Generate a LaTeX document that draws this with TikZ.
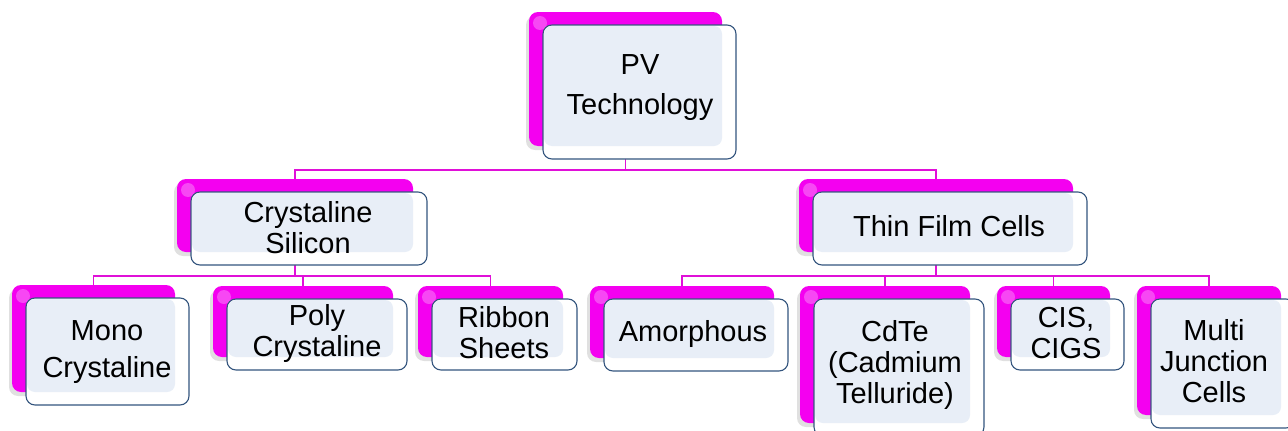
\documentclass[tikz,border=0pt]{standalone}
\usepackage{fontspec}
\setmainfont{Liberation Sans}
\usetikzlibrary{calc}
\pgfdeclarelayer{background}
\pgfsetlayers{background,main}

\definecolor{tilemag}{HTML}{F400F0}
\definecolor{wiremag}{HTML}{E010D8}
\definecolor{tilefill}{HTML}{E8EEF7}
\definecolor{tileedge}{HTML}{34557E}

\tikzset{
  backbox/.style={fill=tilemag, rounded corners=9pt, inner sep=0pt, outer sep=0pt},
  frontbox/.style={draw=tileedge, line width=1.1pt, fill=white, rounded corners=9pt},
  innerfill/.style={fill=tilefill, rounded corners=8pt},
  gloss/.style={fill=white, opacity=.28},
  softshadow/.style={fill=black, opacity=.12, rounded corners=9pt},
  wire/.style={draw=wiremag, line width=1.3pt},
  lbl/.style={font=\fontsize{29}{31}\selectfont, align=center, text=black, inner sep=0pt},
}

% tile: name, x1, y1, x2, y2 of the magenta back plate; the framed card sits offset by (14,13)
\newcommand\tile[5]{%
  \path[softshadow] ({#2-3},{#3+4}) rectangle ({#4-3},{#5+4});
  \node[backbox, minimum width={#4-#2}, minimum height={#5-#3}] (#1) at ({(#2+#4)/2},{(#3+#5)/2}) {};
  \path[gloss] ({#2+11},{#3+11}) circle (7);
  \path[frontbox] ({#2+14},{#3+13}) rectangle ({#4+14},{#5+13});
  \path[innerfill] ({#2+15},{#3+14}) rectangle (#4,#5);
}

\begin{document}
\begin{tikzpicture}[x=1pt, y=-1pt]
\useasboundingbox (0,0) rectangle (1288,431);

% level 0
\tile{pv}{529}{12}{722}{146}
% level 1
\tile{cs}{177}{179}{413}{252}
\tile{tf}{799}{179}{1073}{252}
% level 2
\tile{mono}{12}{285}{175}{392}
\tile{poly}{213}{286}{393}{357}
\tile{ribbon}{418}{286}{563}{357}
\tile{amor}{590}{286}{774}{358}
\tile{cdte}{800}{286}{970}{423}
\tile{cis}{997}{286}{1110}{357}
\tile{multi}{1137}{286}{1281}{415}

% labels
\node[lbl] (pv-t) at (640,88) {PV\\[9pt]Technology};
\node[lbl] (cs-t) at (308,228) {Crystaline\\Silicon};
\node[lbl] (tf-t) at (949,226) {Thin Film Cells};
\node[lbl] (mono-t) at (107,352) {Mono\\[6pt]Crystaline};
\node[lbl] (poly-t) at (317,333) {Poly\\Crystaline};
\node[lbl] (ribbon-t) at (504,333) {Ribbon\\Sheets};
\node[lbl] (amor-t) at (693,334) {Amorphous};
\node[lbl] (cdte-t) at (895,365) {CdTe\\(Cadmium\\Telluride)};
\node[lbl] (cis-t) at (1066,333) {CIS,\\CIGS};
\node[lbl] (multi-t) at (1214,361) {Multi\\Junction\\Cells};

% bus lines
\coordinate (bus0) at (0,170);
\coordinate (bus1) at (0,276);
\coordinate (bus2) at (0,276);

\begin{pgfonlayer}{background}
  \draw[wire] (pv.south) -- (pv.south |- bus0);
  \draw[wire] (cs.north) |- (tf.north |- bus0) -- (tf.north);

  \draw[wire] (cs.south) -- (cs.south |- bus1);
  \draw[wire] (mono.north) |- (ribbon.north |- bus1) -- (ribbon.north);
  \draw[wire] (poly.north) -- (poly.north |- bus1);

  \draw[wire] (tf.south) -- (tf.south |- bus2);
  \draw[wire] (amor.north) |- (multi.north |- bus2) -- (multi.north);
  \draw[wire] (cdte.north) -- (cdte.north |- bus2);
  \draw[wire] (cis.north) -- (cis.north |- bus2);
\end{pgfonlayer}
\end{tikzpicture}
\end{document}
